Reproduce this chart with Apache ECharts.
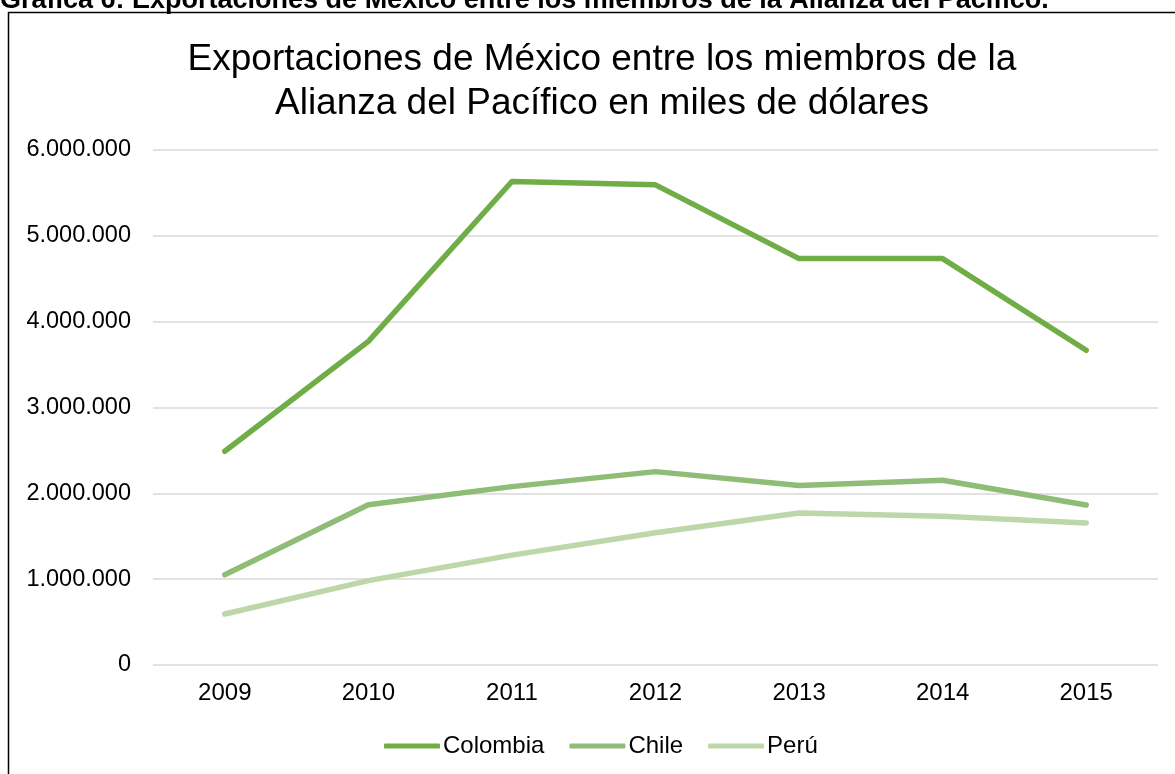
<!DOCTYPE html>
<html>
<head>
<meta charset="utf-8">
<script src="https://cdn.jsdelivr.net/npm/echarts@6/dist/echarts.min.js"></script>
<style>
  html, body { margin: 0; padding: 0; background: #fff; }
  #chart { width: 1175px; height: 774px; }
</style>
</head>
<body>
<div id="chart"></div>
<script>
// datos (miles de dólares)
var years = ['2009', '2010', '2011', '2012', '2013', '2014', '2015'];
var colombia = [2490000, 3770000, 5633000, 5594000, 4735000, 4735000, 3667000];
var chile = [1052000, 1868000, 2078000, 2253000, 2090000, 2152000, 1865000];
var peru = [594000, 983000, 1280000, 1540000, 1772000, 1732000, 1655000];

var colores = ['#70AD47', '#8FBC76', '#BDD7AA'];

var myChart = echarts.init(document.getElementById('chart'));

function linea(nombre, datos, color) {
    return {
        name: nombre,
        type: 'line',
        data: datos,
        symbol: 'none',
        smooth: false,
        lineStyle: { color: color, width: 5.5, cap: 'round', join: 'round' },
        itemStyle: { color: color }
    };
}

var option = {
    animation: false,
    backgroundColor: '#fff',
    title: {
        text: 'Exportaciones de México entre los miembros de la\nAlianza del Pacífico en miles de dólares',
        left: 597,
        top: 33,
        textAlign: 'center',
        textStyle: {
            fontFamily: 'Liberation Sans',
            fontSize: 37,
            fontWeight: 'normal',
            color: '#000',
            lineHeight: 44
        }
    },
    grid: { left: 153, right: 17, top: 150, bottom: 109 },
    legend: {
        bottom: 11,
        left: 379,
        icon: 'roundRect',
        itemWidth: 56,
        itemHeight: 5,
        itemGap: 25,
        textStyle: { fontFamily: 'Liberation Sans', fontSize: 24, color: '#000', padding: [0, 0, 0, -2] },
        data: ['Colombia', 'Chile', 'Perú']
    },
    xAxis: {
        type: 'category',
        data: years,
        boundaryGap: true,
        axisLine: { show: false },
        axisTick: { show: false },
        axisLabel: { fontFamily: 'Liberation Sans', fontSize: 24, color: '#000', margin: 16 }
    },
    yAxis: {
        type: 'value',
        min: 0,
        max: 6000000,
        interval: 1000000,
        axisLine: { show: false },
        axisTick: { show: false },
        splitLine: { lineStyle: { color: '#D9D9D9', width: 1.5 } },
        axisLabel: {
            fontFamily: 'Liberation Sans',
            fontSize: 23.5,
            color: '#000',
            margin: 22,
            formatter: function (v) {
                return String(v).replace(/\B(?=(\d{3})+(?!\d))/g, '.');
            }
        }
    },
    graphic: [
        {
            type: 'text',
            left: 0,
            top: -13,
            style: {
                text: 'Gráfica 6: Exportaciones de México entre los miembros de la Alianza del Pacífico.',
                font: 'bold 27px "Liberation Sans"',
                fill: '#000'
            }
        },
        {
            type: 'rect',
            shape: { x: 8.5, y: 12.5, width: 1200, height: 800 },
            style: { fill: 'none', stroke: '#000', lineWidth: 1.5 },
            silent: true
        }
    ],
    series: [
        linea('Colombia', colombia, colores[0]),
        linea('Chile', chile, colores[1]),
        linea('Perú', peru, colores[2])
    ]
};

myChart.setOption(option);
</script>
</body>
</html>
